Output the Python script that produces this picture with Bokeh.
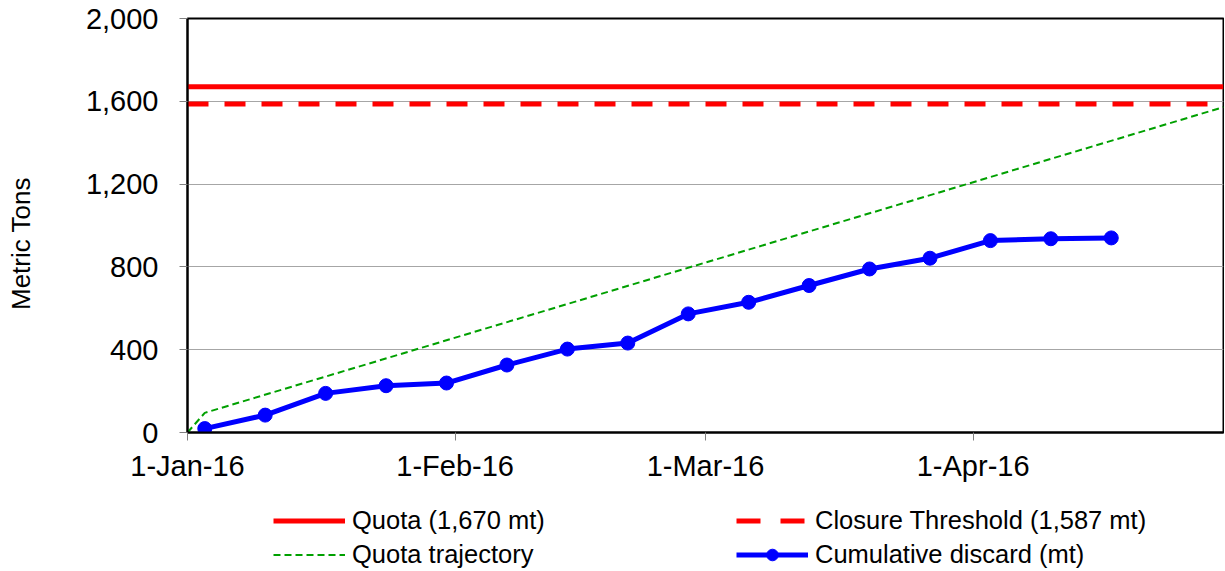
import pandas as pd
from bokeh.plotting import figure
from bokeh.layouts import column
from bokeh.models import (Legend, LegendItem, FixedTicker, NumeralTickFormatter,
                          CustomJSTickFormatter, Range1d)
from bokeh.embed import file_html
from bokeh.resources import INLINE

# ---- data ----
season_dates = ["2016-01-01", "2016-04-30"]
quota = 1670
closure_threshold = 1587
trajectory_dates = ["2016-01-01", "2016-01-03", "2016-04-30"]
trajectory_values = [0, 95, 1572]
discard_dates = ["2016-01-03", "2016-01-10", "2016-01-17", "2016-01-24", "2016-01-31",
                 "2016-02-07", "2016-02-14", "2016-02-21", "2016-02-28", "2016-03-06",
                 "2016-03-13", "2016-03-20", "2016-03-27", "2016-04-03", "2016-04-10",
                 "2016-04-17"]
discard_values = [19, 84, 189, 226, 239, 326, 403, 432, 573, 629, 710, 790, 842, 927, 936, 940]
x_tick_dates = ["2016-01-01", "2016-02-01", "2016-03-01", "2016-04-01"]
y_ticks = [0, 400, 800, 1200, 1600, 2000]
y_label = "Metric Tons"
legend_labels = ["Quota (1,670 mt)", "Quota trajectory",
                 "Closure Threshold (1,587 mt)", "Cumulative discard (mt)"]

FONT = "Liberation Sans"
RED, GREEN, BLUE = "#ff0000", "#00a000", "#0000ff"

season = pd.to_datetime(season_dates)
traj_d = pd.to_datetime(trajectory_dates)
dd = pd.to_datetime(discard_dates)


def draw_series(fig, thr_dash):
    r1 = fig.line(season, [quota, quota], line_color=RED, line_width=5)
    r2 = fig.line(season, [closure_threshold, closure_threshold], line_color=RED,
                  line_width=5, line_dash=thr_dash)
    r3 = fig.line(traj_d, trajectory_values, line_color=GREEN, line_width=2, line_dash="7 4")
    r4 = fig.line(dd, discard_values, line_color=BLUE, line_width=5)
    r5 = fig.scatter(dd, discard_values, size=14, marker="circle",
                     fill_color=BLUE, line_color=BLUE)
    return r1, r2, r3, r4, r5


p = figure(width=1224, height=490, x_axis_type="datetime",
           x_range=Range1d(season[0], season[1]), y_range=Range1d(0, 2000),
           output_backend="svg", toolbar_location=None,
           min_border_left=187, min_border_right=1, min_border_top=18, min_border_bottom=58)
p.background_fill_color = "white"
p.outline_line_color = "black"
p.outline_line_width = 2
draw_series(p, "21 16")

# axes
p.xaxis.ticker = FixedTicker(ticks=[pd.Timestamp(d).timestamp() * 1000 for d in x_tick_dates])
p.xaxis.formatter = CustomJSTickFormatter(code="""
const d = new Date(tick);
const m = ["Jan","Feb","Mar","Apr","May","Jun","Jul","Aug","Sep","Oct","Nov","Dec"][d.getUTCMonth()];
return d.getUTCDate() + "-" + m + "-" + String(d.getUTCFullYear()).slice(2);
""")
p.yaxis.ticker = FixedTicker(ticks=y_ticks)
p.yaxis.formatter = NumeralTickFormatter(format="0,0")
for ax in (p.xaxis, p.yaxis):
    ax.major_label_text_font = FONT
    ax.major_label_text_font_size = "29px"
    ax.major_label_text_color = "black"
    ax.axis_line_color = "black"
    ax.axis_line_width = 2
    ax.major_tick_line_color = "#808080"
    ax.major_tick_line_width = 1
    ax.major_tick_out = 8
    ax.major_tick_in = 0
    ax.minor_tick_line_color = None
p.xaxis.major_label_standoff = 9
p.yaxis.major_label_standoff = 21

# y-axis label; trailing no-break spaces set it a little below the frame's centre, as in the original
p.yaxis.axis_label = y_label + "\u00a0" * 5
p.yaxis.axis_label_text_font = FONT
p.yaxis.axis_label_text_font_size = "26px"
p.yaxis.axis_label_text_font_style = "normal"
p.yaxis.axis_label_text_color = "black"
p.yaxis.axis_label_standoff = 47

p.xgrid.grid_line_color = None
p.ygrid.grid_line_color = "#a6a6a6"
p.ygrid.grid_line_width = 1

# ---- legend strip below the chart (series drawn out of view, used as legend proxies) ----
q = figure(width=1224, height=81, x_axis_type="datetime",
           x_range=Range1d(season[0], season[1]), y_range=Range1d(-20, -10),
           output_backend="svg", toolbar_location=None,
           min_border_left=187, min_border_right=1, min_border_top=0, min_border_bottom=0)
q.axis.visible = False
q.grid.grid_line_color = None
q.outline_line_color = None
l_quota, l_thr, l_traj, l_dl, l_dm = draw_series(q, "24 20")

legend = Legend(items=[
    LegendItem(label=legend_labels[0], renderers=[l_quota]),
    LegendItem(label=legend_labels[1], renderers=[l_traj]),
    LegendItem(label=legend_labels[2], renderers=[l_thr]),
    LegendItem(label=legend_labels[3], renderers=[l_dl, l_dm]),
], orientation="vertical", nrows=2, location=(86, 2))
legend.label_text_font = FONT
legend.label_text_font_size = "25.5px"
legend.label_text_color = "black"
legend.glyph_width = 72
legend.glyph_height = 29
legend.label_height = 29
legend.label_standoff = 7
legend.label_width = 379
legend.spacing = 5
legend.padding = 0
legend.margin = 0
legend.border_line_color = None
legend.background_fill_alpha = 0
q.add_layout(legend, "center")

layout = column(p, q, spacing=0)
open("out.html", "w").write(file_html(layout, INLINE))
